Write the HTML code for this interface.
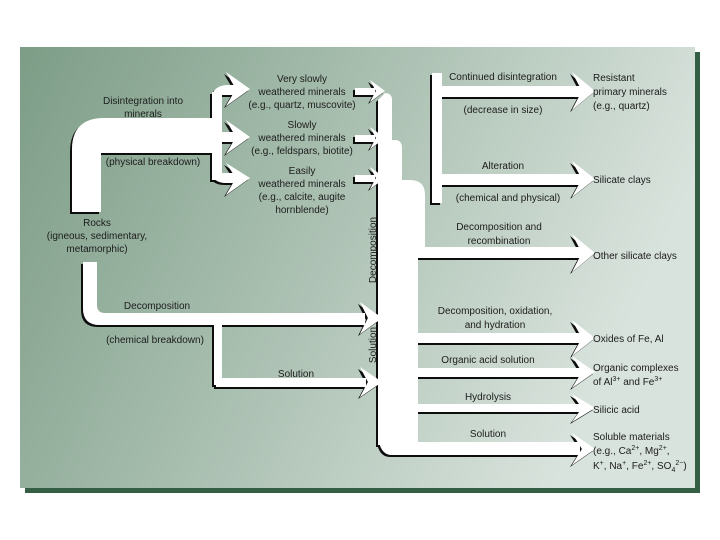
<!DOCTYPE html>
<html><head><meta charset="utf-8"><style>
html,body{margin:0;padding:0;background:#fff;width:720px;height:540px;overflow:hidden}
svg{display:block}
text{font-family:"Liberation Sans",sans-serif;font-size:10px;fill:#1c1c1c}
</style></head><body>
<svg width="720" height="540" viewBox="0 0 720 540">
<defs>
<linearGradient id="bg" x1="0" y1="0" x2="1" y2="0.3">
<stop offset="0" stop-color="#7d9d87"/><stop offset="0.5" stop-color="#a9bfb0"/><stop offset="1" stop-color="#d9e3dd"/>
</linearGradient>
<filter id="sh" x="-10%" y="-10%" width="120%" height="120%">
<feDropShadow dx="-2" dy="2" stdDeviation="0.3" flood-color="#111"/>
</filter>
</defs>
<rect x="25" y="52" width="675" height="441" fill="#345f45"/>
<rect x="20" y="47" width="675" height="441" fill="url(#bg)"/>
<g fill="#fff" filter="url(#sh)">
<!-- main physical band -->
<path d="M72 212 L72 150 Q72 118 104 118 L215 118 L215 153 L101 153 L101 212 Z"/>
<!-- bracket -->
<rect x="212" y="92" width="10" height="88"/>
<path d="M212 100 Q212 85 228 85 L236 85 L236 95 L222 95 Z"/>
<rect x="215" y="132" width="22" height="10"/>
<path d="M212 170 Q212 183 226 183 L236 183 L236 173 L222 173 Z"/>
<polygon points="226,72 250,89 226,106 236,89"/>
<polygon points="226,120 250,137 226,154 236,137"/>
<polygon points="226,163 250,178 226,195 236,178"/>
<!-- small arrows -->
<rect x="355" y="88" width="20" height="7"/><polygon points="370,80 385,91 370,102 376,91"/>
<rect x="355" y="135" width="20" height="7"/><polygon points="370,127 385,138 370,149 376,138"/>
<rect x="355" y="175" width="20" height="7"/><polygon points="370,167 385,178 370,189 376,178"/>
<!-- channel -->
<path d="M385 93 Q392 93 392 100 L392 140 L395 140 Q402 140 402 148 L402 180 L410 180 Q425 180 425 195 L425 250 L418 250 L418 445 L378 445 L378 100 Z"/>
<path d="M378 430 Q378 455 392 455 L580 455 L580 442 L392 442 Z"/>
<!-- right top bar -->
<rect x="432" y="73" width="10" height="130"/>
<rect x="440" y="86" width="145" height="11"/><polygon points="572,72 595,91 572,110 582,91"/>
<rect x="440" y="174" width="145" height="11"/><polygon points="572,161 595,179 572,197 582,179"/>
<!-- other silicate -->
<rect x="418" y="247" width="167" height="11"/><polygon points="572,234 595,253 572,272 582,253"/>
<!-- lower branches -->
<rect x="410" y="300" width="8" height="42"/><rect x="412" y="333" width="173" height="10"/><polygon points="572,320 595,338 572,356 582,338"/>
<rect x="400" y="345" width="6" height="32"/><rect x="402" y="368" width="183" height="9"/><polygon points="572,356 595,372 572,388 582,372"/>
<rect x="392" y="382" width="6" height="30"/><rect x="394" y="404" width="191" height="8"/><polygon points="572,394 595,408 572,422 582,408"/>
<rect x="386" y="418" width="6" height="30"/><polygon points="572,433 595,449 572,465 582,449"/>
<!-- decomposition lower -->
<path d="M83 262 L97 262 L97 305 Q97 313 105 313 L365 313 L365 325 L100 325 Q83 325 83 308 Z"/>
<polygon points="360,302 382,318 360,334 368,318"/>
<rect x="214" y="325" width="8" height="60"/>
<rect x="216" y="378" width="150" height="9"/><polygon points="360,367 382,382 360,397 368,382"/>
</g>
<g text-anchor="middle">
<text x="143" y="104">Disintegration into</text><text x="143" y="117">minerals</text>
<text x="153" y="165">(physical breakdown)</text>
<text x="97" y="226">Rocks</text><text x="97" y="239">(igneous, sedimentary,</text><text x="97" y="252">metamorphic)</text>
<text x="302" y="82">Very slowly</text><text x="302" y="95">weathered minerals</text><text x="302" y="108">(e.g., quartz, muscovite)</text>
<text x="302" y="128">Slowly</text><text x="302" y="141">weathered minerals</text><text x="302" y="154">(e.g., feldspars, biotite)</text>
<text x="302" y="174">Easily</text><text x="302" y="187">weathered minerals</text><text x="302" y="200">(e.g., calcite, augite</text><text x="302" y="213">hornblende)</text>
<text x="157" y="309">Decomposition</text>
<text x="155" y="343">(chemical breakdown)</text>
<text x="296" y="377">Solution</text>
<text x="503" y="80">Continued disintegration</text>
<text x="503" y="113">(decrease in size)</text>
<text x="503" y="169">Alteration</text>
<text x="508" y="201">(chemical and physical)</text>
<text x="499" y="230">Decomposition and</text><text x="499" y="244">recombination</text>
<text x="495" y="314">Decomposition, oxidation,</text><text x="495" y="328">and hydration</text>
<text x="488" y="363">Organic acid solution</text>
<text x="488" y="400">Hydrolysis</text>
<text x="488" y="437">Solution</text>
<text transform="translate(376,250) rotate(-90)">Decomposition</text>
<text transform="translate(376,345) rotate(-90)">Solution</text>
</g>
<g>
<text x="593" y="81">Resistant</text><text x="593" y="95">primary minerals</text><text x="593" y="109">(e.g., quartz)</text>
<text x="593" y="183">Silicate clays</text>
<text x="593" y="259">Other silicate clays</text>
<text x="593" y="342">Oxides of Fe, Al</text>
<text x="593" y="371">Organic complexes</text><text x="593" y="385">of Al<tspan dy="-4" font-size="7">3+</tspan><tspan dy="4"> and Fe</tspan><tspan dy="-4" font-size="7">3+</tspan></text>
<text x="593" y="413">Silicic acid</text>
<text x="593" y="440">Soluble materials</text>
<text x="593" y="454">(e.g., Ca<tspan dy="-4" font-size="7">2+</tspan><tspan dy="4">, Mg</tspan><tspan dy="-4" font-size="7">2+</tspan><tspan dy="4">,</tspan></text>
<text x="593" y="469">K<tspan dy="-4" font-size="7">+</tspan><tspan dy="4">, Na</tspan><tspan dy="-4" font-size="7">+</tspan><tspan dy="4">, Fe</tspan><tspan dy="-4" font-size="7">2+</tspan><tspan dy="4">, SO</tspan><tspan dy="3" font-size="7">4</tspan><tspan dy="-7" font-size="7">2−</tspan><tspan dy="4">)</tspan></text>
</g>
</svg>
</body></html>
